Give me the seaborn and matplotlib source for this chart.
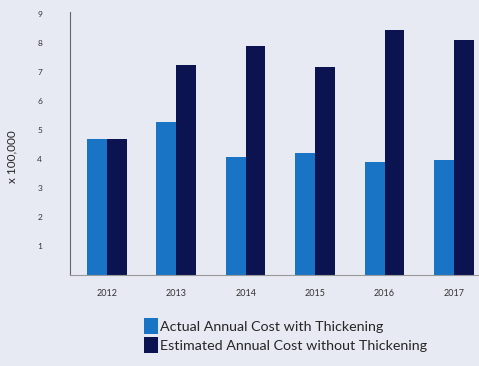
import pandas as pd
import seaborn as sns
import matplotlib.pyplot as plt
from matplotlib.patches import Patch

# values (x 100,000)
years = ["2012", "2013", "2014", "2015", "2016", "2017"]
actual = [4.68, 5.28, 4.08, 4.2, 3.9, 3.95]
estimated = [4.68, 7.25, 7.9, 7.18, 8.45, 8.1]
series = ["Actual Annual Cost with Thickening", "Estimated Annual Cost without Thickening"]
colors = ["#1a74c6", "#0b1450"]
bg = "#e7eaf3"

df = pd.DataFrame({
    "year": years * 2,
    "cost": actual + estimated,
    "series": [series[0]] * len(years) + [series[1]] * len(years),
})

sns.set_style("white")
plt.rcParams["font.family"] = ["Lato", "DejaVu Sans"]

fig = plt.figure(figsize=(4.79, 3.66), dpi=100, facecolor=bg)
ax = fig.add_axes([0.146, 0.249, 0.854, 0.718])
ax.set_facecolor(bg)

sns.barplot(data=df, x="year", y="cost", hue="series", palette=colors,
            width=0.57, saturation=1, linewidth=0, ax=ax, legend=False)

ax.set_xlim(-0.53, 5.36)
ax.set_ylim(0, 9.07)
ax.set_yticks(range(0, 10))
ax.set_yticklabels([""] + [str(i) for i in range(1, 10)], fontsize=6, color="#333333")
ax.tick_params(axis="y", length=2, pad=18, color="#777777")
ax.tick_params(axis="x", length=0, pad=10, labelsize=6.5, labelcolor="#333333")
ax.set_xticks([i + 0.5 for i in range(5)], minor=True)
ax.tick_params(axis="x", which="minor", length=3, color="#999999")
ax.set_xlabel("")
ax.set_ylabel("x 100,000", fontsize=8.5, labelpad=14)
ax.yaxis.label.set_y(0.45)

for s in ["top", "right"]:
    ax.spines[s].set_visible(False)
ax.spines["left"].set_color("#666666")
ax.spines["bottom"].set_color("#999999")

handles = [Patch(facecolor=c, edgecolor="none") for c in colors]
fig.legend(handles, series, loc="upper left", bbox_to_anchor=(0.285, 0.15),
           frameon=False, fontsize=10.3, handlelength=1.0, handleheight=1.3,
           handletextpad=0.15, labelspacing=0.25, borderpad=0)

fig.savefig("out.png", dpi=100, facecolor=bg)
